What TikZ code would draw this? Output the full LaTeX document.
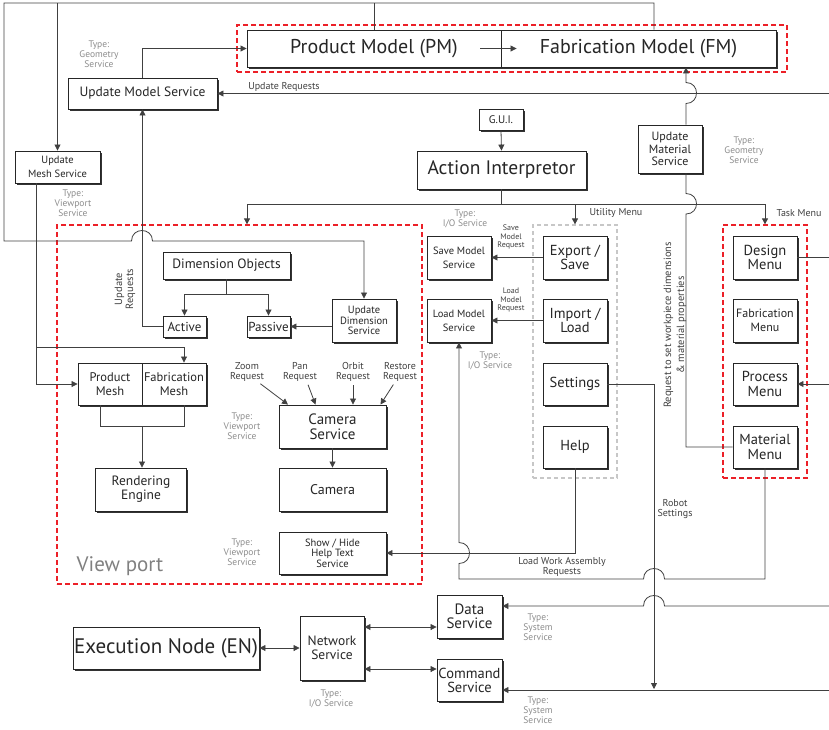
\documentclass[tikz,border=0pt]{standalone}
\usepackage{fontspec}
\setmainfont{PT Sans}
\usetikzlibrary{arrows.meta,shadows,calc}
\definecolor{dred}{RGB}{236,32,40}
\newcommand\myfs[2]{\fontsize{#1}{#2}\selectfont}
\begin{document}
\begin{tikzpicture}[x=1pt,y=-1pt,
  box/.style={draw=black!85, line width=0.9pt, fill=white, inner sep=0pt, align=center, text=black!85,
    general shadow={fill=black!80, shadow xshift=1.5pt, shadow yshift=-1.5pt}},
  lbl/.style={inner sep=0pt, align=center, text=black!75},
  typ/.style={inner sep=0pt, align=center, text=black!45, font=\myfs{9.5}{10}},
  reddash/.style={draw=dred, line width=1.3pt, dash pattern=on 5pt off 3pt, inner sep=0pt},
  graydash/.style={draw=black!22, line width=1.2pt, dash pattern=on 4pt off 3pt, inner sep=0pt},
  line/.style={draw=black!75, line width=0.8pt},
  arr/.style={line, -{Triangle[length=6pt,width=6pt]}},
  darr/.style={line, {Triangle[length=6pt,width=6pt]}-{Triangle[length=6pt,width=6pt]}},
]
\useasboundingbox (0,0) rectangle (829,729);

% dashed groups
\node[reddash, minimum width=550pt, minimum height=47pt] (pmfm) at (512,48.5) {};
\node[reddash, minimum width=365pt, minimum height=359pt] (vp) at (239.5,404.5) {};
\node[graydash, minimum width=84pt, minimum height=253pt] (util) at (575,351.5) {};
\node[reddash, minimum width=84pt, minimum height=253pt] (task) at (765,351.5) {};

% boxes
\node[box, minimum width=254pt, minimum height=37pt, font=\myfs{20}{24}] (pm) at (374,48.5) {Product Model (PM)};
\node[box, minimum width=275pt, minimum height=37pt, font=\myfs{20}{24}] (fm) at (638.5,48.5) {Fabrication Model (FM)};
\node[box, minimum width=149pt, minimum height=31pt, font=\myfs{13.5}{15}] (ums) at (142.5,93.5) {Update Model Service};
\node[box, minimum width=85pt, minimum height=32pt, font=\myfs{10.5}{14}] (umesh) at (57.5,167) {Update\\Mesh Service};
\node[box, minimum width=44pt, minimum height=21pt, font=\myfs{11}{13}] (gui) at (501,119.5) {G.U.I.};
\node[box, minimum width=169pt, minimum height=38pt, font=\myfs{19.5}{20}] (ai) at (501.5,170) {Action Interpretor};
\node[box, minimum width=64pt, minimum height=48pt, font=\myfs{12}{12.5}] (umat) at (670,149) {Update\\Material\\Service};

\node[box, minimum width=127pt, minimum height=27pt, font=\myfs{13.5}{15}] (dobj) at (226.5,265.5) {Dimension Objects};
\node[box, minimum width=43pt, minimum height=21pt, font=\myfs{13}{14}] (act) at (184.5,326.5) {Active};
\node[box, minimum width=43pt, minimum height=21pt, font=\myfs{13}{14}] (pas) at (268.5,326.5) {Passive};
\node[box, minimum width=64pt, minimum height=43pt, font=\myfs{10.5}{10.5}] (uds) at (364,320.5) {Update\\Dimension\\Service};
\node[box, minimum width=64pt, minimum height=42pt, font=\myfs{12.5}{14}] (pmesh) at (110,384) {Product\\Mesh};
\node[box, minimum width=64pt, minimum height=42pt, font=\myfs{12.5}{14}] (fmesh) at (174,384) {Fabrication\\Mesh};
\node[box, minimum width=91pt, minimum height=43pt, font=\myfs{13.5}{14}] (rend) at (141,489.5) {Rendering\\Engine};
\node[box, minimum width=107pt, minimum height=43pt, font=\myfs{15}{15}] (cams) at (332.5,426.5) {Camera\\Service};
\node[box, minimum width=107pt, minimum height=43pt, font=\myfs{14}{15}] (cam) at (332.5,489.5) {Camera};
\node[box, minimum width=107pt, minimum height=42pt, font=\myfs{10.5}{10.5}] (shs) at (332.5,553) {Show / Hide\\Help Text\\Service};

\node[box, minimum width=64pt, minimum height=43pt, font=\myfs{10.5}{14}] (sms) at (459,257.5) {Save Model\\Service};
\node[box, minimum width=64pt, minimum height=43pt, font=\myfs{10.5}{14}] (lms) at (459,320.5) {Load Model\\Service};
\node[box, minimum width=64pt, minimum height=43pt, font=\myfs{14.5}{14.5}] (exp) at (575,257.5) {Export /\\Save};
\node[box, minimum width=64pt, minimum height=43pt, font=\myfs{14.5}{14.5}] (imp) at (575,320.5) {Import /\\Load};
\node[box, minimum width=64pt, minimum height=42pt, font=\myfs{14.5}{14.5}] (set) at (575,384) {Settings};
\node[box, minimum width=64pt, minimum height=42pt, font=\myfs{14.5}{14.5}] (help) at (575,447) {Help};

\node[box, minimum width=64pt, minimum height=43pt, font=\myfs{14.5}{14.5}] (des) at (765,257.5) {Design\\Menu};
\node[box, minimum width=64pt, minimum height=43pt, font=\myfs{12}{14}] (fab) at (765,320.5) {Fabrication\\Menu};
\node[box, minimum width=64pt, minimum height=42pt, font=\myfs{14.5}{14.5}] (proc) at (765,384) {Process\\Menu};
\node[box, minimum width=64pt, minimum height=42pt, font=\myfs{14.5}{14.5}] (matm) at (765,447) {Material\\Menu};

\node[box, minimum width=65pt, minimum height=43pt, font=\myfs{15}{14}] (data) at (469.5,616.5) {Data\\Service};
\node[box, minimum width=65pt, minimum height=42pt, font=\myfs{14.5}{14}] (cmd) at (469.5,680) {Command\\Service};
\node[box, minimum width=64pt, minimum height=64pt, font=\myfs{13.5}{14}] (net) at (332,648) {Network\\Service};
\node[box, minimum width=186pt, minimum height=42pt, font=\myfs{21}{24}] (en) at (166,648) {Execution Node (EN)};

% text labels
\node[lbl, text=black!50, font=\myfs{21}{24}] (vplbl) at (120,566) {View port};
\node[typ] (t1) at (99,54) {Type:\\Geometry\\Service};
\node[typ] (t2) at (73,203) {Type:\\Viewport\\Service};
\node[typ] (t3) at (744,150) {Type:\\Geometry\\Service};
\node[typ] (t4) at (465,219) {Type:\\I/O Service};
\node[typ] (t5) at (490,361) {Type:\\I/O Service};
\node[typ] (t6) at (242,426) {Type:\\Viewport\\Service};
\node[typ] (t7) at (242,552) {Type:\\Viewport\\Service};
\node[typ] (t8) at (538,627) {Type:\\System\\Service};
\node[typ] (t9) at (538,710) {Type:\\System\\Service};
\node[typ] (t10) at (331,699) {Type:\\I/O Service};

\node[lbl, font=\myfs{10}{11}] (lur) at (284,87) {Update Requests};
\node[lbl, font=\myfs{10}{11}] (lum) at (616,213) {Utility Menu};
\node[lbl, font=\myfs{10}{11}] (ltm) at (799,213) {Task Menu};
\node[lbl, font=\myfs{10.5}{11}, rotate=90] (lur2) at (125,289) {Update\\Requests};
\node[lbl, font=\myfs{10.5}{13}, rotate=90] (lreq) at (675,325) {Request to set workpiece dimensions\\\& material properties};
\node[lbl, font=\myfs{8}{8.5}] (lsave) at (511,237) {Save\\Model\\Request};
\node[lbl, font=\myfs{8}{8.5}] (lload) at (511,300) {Load\\Model\\Request};
\node[lbl, font=\myfs{10}{10.5}] (zreq) at (247,372) {Zoom\\Request};
\node[lbl, font=\myfs{10}{10.5}] (preq) at (300,372) {Pan\\Request};
\node[lbl, font=\myfs{10}{10.5}] (oreq) at (353,372) {Orbit\\Request};
\node[lbl, font=\myfs{10}{10.5}] (rreq) at (400,372) {Restore\\Request};
\node[lbl, font=\myfs{10}{10.5}] (lrs) at (675,509) {Robot\\Settings};
\node[lbl, font=\myfs{10}{10.5}] (llw) at (562,567) {Load Work Assembly\\Requests};

% free coordinates
\coordinate (tl) at (4,3);
\coordinate (bl) at (4,241);
\coordinate (bus) at (501.5,204);
\coordinate (urR) at (829,93.5);
\coordinate (mb) at (36,347);
\coordinate (mj) at (142,426);
\coordinate (rsend) at (654,689);
\coordinate (dR) at (829,606);
\coordinate (cR) at (829,690);
\coordinate (dsR) at (829,257.5);
\coordinate (pcR) at (829,384);

% connectors
\draw[line] (pm.north) -- (pm.north |- tl);
\draw[arr] ([xshift=15.5pt]fm.north) |- (tl) -- (bl) -- (131.5,241) .. controls (131.5,227) and (152.5,227) .. (152.5,241) -| (uds.north);
\draw[arr] (umesh.north |- tl) -- (umesh.north);
\draw[arr] (ums.north) |- (pm.west);
\draw[arr] ([xshift=-21pt]pm.east) -- ([xshift=16pt]fm.west);
\draw[arr] (urR) -- (ums.east);

\draw[line] (matm.west) -| (686,214) .. controls (700,214) and (700,193.5) .. (686,193.5) -- ([xshift=16pt]umat.south);
\draw[arr] ([xshift=16pt]umat.north) -- (686,103.5) .. controls (700,103.5) and (700,82.5) .. (686,82.5) -- ([xshift=47.5pt]fm.south);

\draw[arr] (gui.south) -- (ai.north);
\draw[line] (ai.south) -- (bus);
\draw[arr] (bus) -| ([xshift=7.5pt]vp.north);
\draw[arr] (bus) -| (util.north);
\draw[arr] (bus) -| (task.north);

\draw[arr] (dobj.south) -- ++(0,15) -| (act.north);
\draw[arr] (dobj.south) -- ++(0,15) -| (pas.north);
\draw[arr] (uds.west |- pas.east) -- (pas.east);
\draw[arr] (act.west) -| (ums.south);

\draw[arr] ([xshift=-21.5pt]umesh.south) |- (pmesh.west);
\draw[arr] (mb) -| ([xshift=10pt]fmesh.north);
\draw[line] ([xshift=-10pt]pmesh.south) -- ++(0,21) -| ([xshift=10pt]fmesh.south);
\draw[arr] (mj) -- (mj |- rend.north);

\draw[arr, shorten <=3pt] ([xshift=11pt]zreq.south) -- ([xshift=-44.5pt]cams.north);
\draw[arr, shorten <=3pt] ([xshift=7pt]preq.south) -- ([xshift=-17pt]cams.north);
\draw[arr, shorten <=3pt] (oreq.south) -- ([xshift=20.5pt]cams.north);
\draw[arr, shorten <=3pt] ([xshift=-5pt]rreq.south) -- ([xshift=48pt]cams.north);
\draw[arr] (cams.south) -- (cam.north);

\draw[arr] (exp.west) -- (sms.east);
\draw[arr] (imp.west) -- (lms.east);
\draw[arr] (help.south) |- (shs.east);
\draw[arr] (matm.south) |- (664.5,579) .. controls (664.5,565) and (643.5,565) .. (643.5,579) -- (459,579) -- (459,563.5) .. controls (473,563.5) and (473,542.5) .. (459,542.5) -- (lms.south);
\draw[arr] (set.east) -| (rsend);

\draw[arr] (dR) -- (664.5,606) .. controls (664.5,592) and (643.5,592) .. (643.5,606) -- ([yshift=10.5pt]data.east);
\draw[arr] (cR) -- ([yshift=-10pt]cmd.east);
\draw[darr] ([yshift=21pt]net.east) -- ([yshift=21pt]net.east -| data.west);
\draw[darr] ([yshift=-21pt]net.east) -- ([yshift=-21pt]net.east -| cmd.west);
\draw[darr] (en.east) -- (net.west);

\draw[line] (des.east) -- (dsR);
\draw[arr] (pcR) -- (proc.east);
\end{tikzpicture}
\end{document}
